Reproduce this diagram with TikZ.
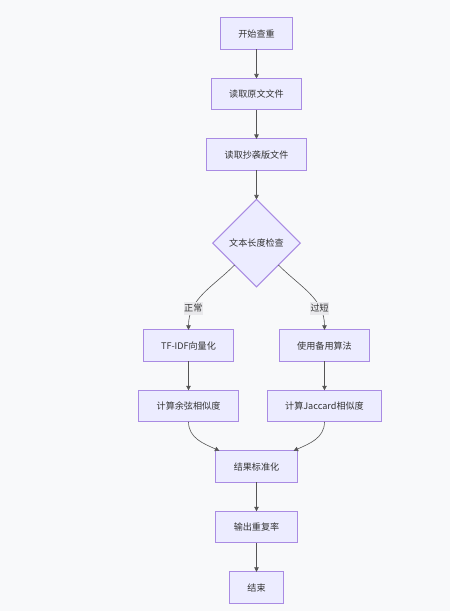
\documentclass[tikz,border=0pt]{standalone}
\usepackage{fontspec}
\setmainfont{Noto Sans CJK SC}
\usepackage{tikz}
\usetikzlibrary{arrows.meta, positioning, shapes.geometric}
\usepackage{xcolor}
\definecolor{bgcol}{HTML}{F8F9FA}
\definecolor{boxfill}{HTML}{ECECFF}
\definecolor{boxline}{HTML}{A98BE3}
\definecolor{textcol}{HTML}{333333}
\definecolor{linecol}{HTML}{555555}
\definecolor{lblfill}{HTML}{E9E9EC}

\begin{document}
\begin{tikzpicture}[>={Triangle[length=4.5pt, width=4.5pt]}, node distance=29pt,
	every node/.style={font=\fontsize{9.1pt}{11pt}\selectfont, text=textcol},
	proc/.style={draw=boxline, fill=boxfill, line width=1pt, rectangle, minimum height=31.5pt, inner xsep=18pt, inner ysep=0pt, outer sep=0pt},
	decide/.style={draw=boxline, fill=boxfill, line width=1pt, diamond, aspect=1, minimum width=87.6pt, minimum height=87.4pt, inner sep=0pt, outer sep=0pt},
	lbl/.style={fill=lblfill, inner sep=0.5pt, minimum height=12.4pt},
	flow/.style={->, draw=linecol, line width=0.6pt}]
	
	% 背景
	\fill[bgcol] (0,0) rectangle (450pt,-611pt);
	\useasboundingbox (0,0) rectangle (450pt,-611pt);
	
	% 主流程节点
	\node[proc] (start) at (256.5pt,-33.7pt) {开始查重};
	\node[proc, below=of start] (read) {读取原文文件};
	\node[proc, below=of read] (plag) {读取抄袭版文件};
	\node[decide, below=of plag] (check) {文本长度检查};
	
	% 两个分支
	\node[proc, below=43pt of check, xshift=-68pt] (tfidf) {TF-IDF向量化};
	\node[proc, below=43pt of check, xshift=68pt] (alt) {使用备用算法};
	\node[proc, below=of tfidf] (cos) {计算余弦相似度};
	\node[proc, below=of alt] (jacc) {计算Jaccard相似度};
	
	% 汇合之后
	\node[proc, below=of cos, xshift=68pt] (norm) {结果标准化};
	\node[proc, below=of norm] (out) {输出重复率};
	\node[proc, below=of out] (finish) {结束};
	
	% 箭头和标签
	\draw[flow] (start) -- (read);
	\draw[flow] (read) -- (plag);
	\draw[flow] (plag) -- (check);
	\draw[flow] (check.south west) to[out=-135, in=90] node[lbl, pos=0.73] (normal) {正常} (tfidf.north);
	\draw[flow] (check.south east) to[out=-45, in=90] node[lbl, pos=0.73] (short) {过短} (alt.north);
	\draw[flow] (tfidf) -- (cos);
	\draw[flow] (alt) -- (jacc);
	\draw[flow] (cos.south) to[out=-90, in=155] (norm.157);
	\draw[flow] (jacc.south) to[out=-90, in=25] (norm.23);
	\draw[flow] (norm) -- (out);
	\draw[flow] (out) -- (finish);
	
\end{tikzpicture}
\end{document}
